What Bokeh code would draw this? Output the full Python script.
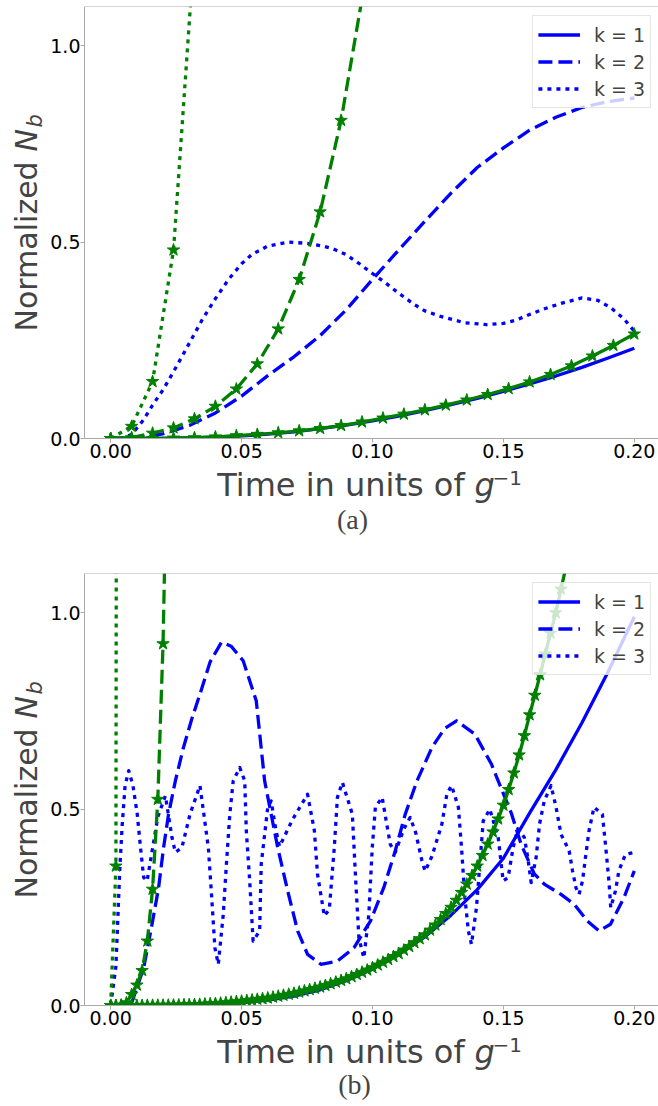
import math
from bokeh.plotting import figure
from bokeh.layouts import column, row
from bokeh.models import Label, Legend, LegendItem, FixedTicker, Range1d, Span
from bokeh.embed import file_html
from bokeh.resources import INLINE

# ---------------- axes / labels ----------------
X_TICKS = [0.0, 0.05, 0.10, 0.15, 0.20]
X_TICK_LABELS = ["0.00", "0.05", "0.10", "0.15", "0.20"]
Y_TICKS = [0.0, 0.5, 1.0]
Y_TICK_LABELS = ["0.0", "0.5", "1.0"]
X_LIMITS = (-0.01, 0.21)
Y_LIMITS = (0.0, 1.1)
LEGEND_LABELS = ["k = 1", "k = 2", "k = 3"]
PANEL_CAPTIONS = ["(a)", "(b)"]

BLUE = "#0000ff"
GREEN = "#008000"

# ---------------- panel (a) ----------------
a_t_star = [0.000, 0.008, 0.016, 0.024, 0.032, 0.040, 0.048, 0.056, 0.064, 0.072,
            0.080, 0.088, 0.096, 0.104, 0.112, 0.120, 0.128, 0.136, 0.144, 0.152,
            0.160, 0.168, 0.176, 0.184, 0.192, 0.200]
a_green_k1 = [0.0, 0.0, 0.0003, 0.001, 0.002, 0.004, 0.007, 0.0105, 0.0145, 0.0195,
              0.0255, 0.033, 0.042, 0.052, 0.062, 0.073, 0.085, 0.098, 0.112, 0.127,
              0.144, 0.163, 0.185, 0.21, 0.237, 0.266]
a_t_k2_star = [0.000, 0.008, 0.016, 0.024, 0.032, 0.040, 0.048, 0.056, 0.064, 0.072,
               0.080, 0.088, 0.096, 0.104]
a_green_k2 = [0.0, 0.002, 0.0135, 0.027, 0.05, 0.082, 0.126, 0.19, 0.279, 0.405,
              0.577, 0.81, 1.12, 1.5]
a_t_k3_star = [0.000, 0.008, 0.016, 0.024, 0.032]
a_green_k3 = [0.0, 0.031, 0.145, 0.48, 1.25]

a_t_blue = [0.00, 0.01, 0.02, 0.03, 0.04, 0.05, 0.06, 0.07, 0.08, 0.09, 0.10,
            0.11, 0.12, 0.13, 0.14, 0.15, 0.16, 0.17, 0.18, 0.19, 0.20]
a_blue_k1 = [0.0, 0.0001, 0.0005, 0.0015, 0.0035, 0.0065, 0.011, 0.017, 0.025, 0.034,
             0.045, 0.057, 0.071, 0.086, 0.102, 0.12, 0.139, 0.159, 0.181, 0.205, 0.23]
a_blue_k2 = [0.0, 0.002, 0.012, 0.033, 0.065, 0.108, 0.16, 0.208, 0.262, 0.328, 0.405,
             0.48, 0.553, 0.625, 0.69, 0.74, 0.785, 0.818, 0.843, 0.858, 0.867]
a_t_blue_k3 = [0.0, 0.004, 0.008, 0.0126, 0.016, 0.02, 0.024, 0.028, 0.035, 0.04,
               0.045, 0.05, 0.054, 0.06, 0.068, 0.075, 0.081, 0.085, 0.09, 0.095,
               0.1, 0.105, 0.11, 0.116, 0.12, 0.126, 0.135, 0.1435, 0.15, 0.155,
               0.16, 0.166, 0.172, 0.18, 0.186, 0.191, 0.196, 0.2]
a_blue_k3 = [0.0, 0.0, 0.01, 0.048, 0.085, 0.124, 0.17, 0.218, 0.303, 0.356,
             0.405, 0.445, 0.469, 0.49, 0.5, 0.497, 0.49, 0.483, 0.468, 0.445,
             0.42, 0.396, 0.37, 0.341, 0.325, 0.311, 0.295, 0.29, 0.293, 0.302,
             0.316, 0.331, 0.344, 0.358, 0.352, 0.333, 0.305, 0.273]

# ---------------- panel (b) ----------------
b_t_star = [round(0.002 * i, 3) for i in range(88)]
b_green_k1 = [0.0, 0.0, 0.0, 0.0, 0.0001, 0.0001, 0.0002, 0.0003, 0.0004, 0.0005,
              0.0006, 0.0008, 0.0011, 0.0014, 0.0017, 0.002, 0.0025, 0.003, 0.0036, 0.0043,
              0.005, 0.006, 0.0072, 0.0085, 0.0097, 0.011, 0.0125, 0.014, 0.0157, 0.0173,
              0.019, 0.0213, 0.0236, 0.026, 0.0285, 0.031, 0.0341, 0.0372, 0.0404, 0.0437,
              0.047, 0.051, 0.0552, 0.0595, 0.0638, 0.068, 0.0734, 0.079, 0.0846, 0.0903,
              0.096, 0.103, 0.11, 0.117, 0.1245, 0.132, 0.141, 0.15, 0.16, 0.17,
              0.18, 0.192, 0.205, 0.219, 0.234, 0.25, 0.268, 0.288, 0.309, 0.331,
              0.355, 0.382, 0.411, 0.442, 0.475, 0.51, 0.55, 0.592, 0.638, 0.687,
              0.74, 0.79, 0.842, 0.895, 0.948, 1.0, 1.06, 1.12]
b_t_k2_star = [0.000, 0.002, 0.004, 0.006, 0.008, 0.010, 0.012, 0.014, 0.016, 0.018,
               0.020, 0.022]
b_green_k2 = [0.0, 0.0, 0.001, 0.007, 0.028, 0.052, 0.089, 0.164, 0.296, 0.525,
              0.921, 1.6]
b_t_k3_star = [0.000, 0.002, 0.004]
b_green_k3 = [0.0, 0.355, 12.0]

b_t_blue = [0.00, 0.01, 0.02, 0.03, 0.04, 0.05, 0.06, 0.07, 0.08, 0.09, 0.10,
            0.11, 0.12, 0.13, 0.14, 0.15, 0.16, 0.17, 0.18, 0.19, 0.20]
b_blue_k1 = [0.0, 0.0, 0.0003, 0.0012, 0.003, 0.007, 0.014, 0.024, 0.04, 0.063, 0.093,
             0.13, 0.175, 0.23, 0.295, 0.375, 0.49, 0.6, 0.72, 0.85, 0.99]
b_t_blue_k2 = [0.0, 0.005, 0.0082, 0.0126, 0.0158, 0.0183, 0.0202, 0.0221, 0.0247, 0.0278,
               0.031, 0.0341, 0.038, 0.0423, 0.046, 0.0506, 0.0556, 0.0588, 0.0613, 0.0638,
               0.0676, 0.0714, 0.0752, 0.0803, 0.0866, 0.0929, 0.0992, 0.1043, 0.1087, 0.1125,
               0.117, 0.1227, 0.1275, 0.1321, 0.1391, 0.1454, 0.148, 0.153, 0.1568, 0.1618,
               0.1656, 0.172, 0.177, 0.1821, 0.1865, 0.1909, 0.196, 0.2]
b_blue_k2 = [0.0, 0.0, 0.01, 0.096, 0.207, 0.3, 0.402, 0.487, 0.572, 0.657,
             0.73, 0.793, 0.875, 0.925, 0.915, 0.878, 0.776, 0.572, 0.487, 0.402,
             0.292, 0.19, 0.13, 0.105, 0.113, 0.147, 0.215, 0.3, 0.394, 0.487,
             0.572, 0.657, 0.705, 0.725, 0.691, 0.615, 0.572, 0.49, 0.41, 0.335,
             0.309, 0.283, 0.258, 0.215, 0.19, 0.207, 0.274, 0.343]
b_t_blue_k3 = [0.0, 0.002, 0.0035, 0.0044, 0.0055, 0.0069, 0.0085, 0.0101, 0.0114, 0.0126,
               0.0139, 0.0155, 0.018, 0.0209, 0.0234, 0.0247, 0.0272, 0.0303, 0.0341, 0.0373,
               0.0386, 0.0398, 0.0411, 0.043, 0.0442, 0.0455, 0.0468, 0.0493, 0.0512, 0.0518,
               0.0531, 0.0544, 0.0569, 0.0575, 0.06, 0.0613, 0.063, 0.0645, 0.0695, 0.0752,
               0.0778, 0.079, 0.0816, 0.0835, 0.0854, 0.0866, 0.0885, 0.0923, 0.0936, 0.0948,
               0.0967, 0.0986, 0.0999, 0.1011, 0.1037, 0.105, 0.1068, 0.1087, 0.112, 0.1144,
               0.1165, 0.1189, 0.1201, 0.1227, 0.1265, 0.1284, 0.1302, 0.1328, 0.134, 0.1353,
               0.1366, 0.1378, 0.1397, 0.141, 0.1423, 0.1448, 0.148, 0.1499, 0.1518, 0.1537,
               0.1555, 0.158, 0.1593, 0.1606, 0.1625, 0.1638, 0.1656, 0.1682, 0.1701, 0.172,
               0.1751, 0.1764, 0.1777, 0.1789, 0.1802, 0.1815, 0.1827, 0.1846, 0.1878, 0.1891,
               0.1903, 0.191, 0.1928, 0.1941, 0.1966, 0.2]
b_blue_k3 = [0.0, 0.1, 0.35, 0.46, 0.56, 0.598, 0.56, 0.49, 0.402, 0.326,
             0.317, 0.38, 0.48, 0.534, 0.428, 0.39, 0.402, 0.487, 0.56, 0.402,
             0.274, 0.147, 0.105, 0.232, 0.36, 0.487, 0.572, 0.606, 0.572, 0.445,
             0.317, 0.164, 0.19, 0.36, 0.505, 0.521, 0.45, 0.405, 0.474, 0.538,
             0.445, 0.334, 0.228, 0.245, 0.402, 0.53, 0.568, 0.487, 0.317, 0.172,
             0.121, 0.232, 0.402, 0.505, 0.53, 0.479, 0.41, 0.39, 0.45, 0.479,
             0.44, 0.368, 0.342, 0.38, 0.462, 0.538, 0.56, 0.505, 0.402, 0.274,
             0.19, 0.156, 0.249, 0.36, 0.47, 0.5, 0.428, 0.317, 0.326, 0.402,
             0.45, 0.428, 0.377, 0.313, 0.377, 0.462, 0.521, 0.56, 0.505, 0.436,
             0.394, 0.343, 0.3, 0.283, 0.317, 0.385, 0.445, 0.505, 0.487, 0.402,
             0.317, 0.249, 0.292, 0.343, 0.385, 0.39]

DASH = "14 6"
DOT = "4 5"
LW = 3.3
FONT = "DejaVu Sans"

LEFT_W = 47          # width of the strip holding the y label
AXIS_LEFT = 34       # room left of each frame for tick labels
AXIS_BOTTOM = 27     # room under each frame for tick labels


def text_fig(w, h):
    f = figure(width=w, height=h, x_axis_type=None, y_axis_type=None,
               output_backend="svg", toolbar_location=None, min_border=0,
               background_fill_color="white", border_fill_color="white")
    f.outline_line_color = None
    return f


def main_panel(blue, green, top_border):
    p = figure(frame_width=576, frame_height=432,
               x_range=Range1d(*X_LIMITS), y_range=Range1d(*Y_LIMITS),
               output_backend="svg", toolbar_location=None,
               min_border_left=AXIS_LEFT, min_border_right=0, min_border_top=top_border,
               min_border_bottom=AXIS_BOTTOM, background_fill_color="white",
               border_fill_color="white")
    p.outline_line_color = None
    p.grid.visible = False

    for ax, ticks, labels in ((p.xaxis[0], X_TICKS, X_TICK_LABELS),
                              (p.yaxis[0], Y_TICKS, Y_TICK_LABELS)):
        ax.ticker = FixedTicker(ticks=ticks)
        ax.major_label_overrides = {t: l for t, l in zip(ticks, labels)}
        ax.minor_tick_line_color = None
        ax.major_tick_in = 0
        ax.major_tick_out = 4
        ax.major_tick_line_color = "#aaaaaa"
        ax.axis_line_color = "#aaaaaa"
        ax.major_label_text_font = FONT
        ax.major_label_text_font_size = "19px"
        ax.major_label_text_color = "black"
    p.xaxis.major_label_standoff = 1
    p.yaxis.major_label_standoff = 0
    p.add_layout(Span(location=Y_LIMITS[1], dimension="width",
                      line_color="#aaaaaa", line_width=1))

    renderers = []
    for (t, v), dash in zip(blue, ["solid", DASH, DOT]):
        r = p.line(t, v, line_color=BLUE, line_width=LW, line_dash=dash,
                   line_join="round")
        renderers.append(r)
    for (t, v), dash in zip(green, ["solid", DASH, DOT]):
        p.line(t, v, line_color=GREEN, line_width=LW, line_dash=dash,
               line_join="round")
        p.scatter(t, v, marker="star", size=13, fill_color=GREEN,
                  line_color=GREEN)

    legend = Legend(items=[LegendItem(label=lab, renderers=[r])
                           for lab, r in zip(LEGEND_LABELS, renderers)],
                    location="top_right", margin=9, padding=5, spacing=0,
                    glyph_width=42, glyph_height=27, label_height=27,
                    label_standoff=14, label_text_font=FONT,
                    label_text_font_size="19px", border_line_color="#cccccc",
                    background_fill_alpha=0.8)
    p.add_layout(legend)
    return p


def ylabel_strip(h):
    f = text_fig(LEFT_W, h)
    f.add_layout(Label(x=26, y=107, x_units="screen", y_units="screen",
                       text="Normalized ", text_font=FONT, angle=math.pi / 2,
                       text_font_size="30px", text_baseline="middle",
                       text_align="left"))
    f.add_layout(Label(x=26, y=287, x_units="screen", y_units="screen",
                       text="N", text_font=FONT, text_font_style="italic",
                       angle=math.pi / 2, text_font_size="30px",
                       text_baseline="middle", text_align="left"))
    f.add_layout(Label(x=34, y=311, x_units="screen", y_units="screen",
                       text="b", text_font=FONT, text_font_style="italic",
                       angle=math.pi / 2, text_font_size="21px",
                       text_baseline="middle", text_align="left"))
    return f


def xlabel_strip(h, mid_y, sup_y, caption, cap_x, cap_y):
    f = text_fig(658, h)
    f.add_layout(Label(x=216.7, y=mid_y, x_units="screen", y_units="screen",
                       text="Time in units of ", text_font=FONT,
                       text_font_size="32px", text_baseline="middle",
                       text_align="left"))
    f.add_layout(Label(x=474, y=mid_y, x_units="screen", y_units="screen",
                       text="g", text_font=FONT, text_font_style="italic",
                       text_font_size="32px", text_baseline="middle",
                       text_align="left"))
    f.add_layout(Label(x=492, y=sup_y, x_units="screen", y_units="screen",
                       text="\u22121", text_font=FONT,
                       text_font_size="20px", text_baseline="middle",
                       text_align="left"))
    f.add_layout(Label(x=cap_x, y=cap_y, x_units="screen", y_units="screen",
                       text=caption, text_font="Liberation Serif",
                       text_font_size="28px", text_baseline="middle",
                       text_align="center"))
    return f


ma = main_panel([(a_t_blue, a_blue_k1), (a_t_blue, a_blue_k2), (a_t_blue_k3, a_blue_k3)],
                [(a_t_star, a_green_k1), (a_t_k2_star, a_green_k2), (a_t_k3_star, a_green_k3)],
                6)
mb = main_panel([(b_t_blue, b_blue_k1), (b_t_blue_k2, b_blue_k2), (b_t_blue_k3, b_blue_k3)],
                [(b_t_star, b_green_k1), (b_t_k2_star, b_green_k2), (b_t_k3_star, b_green_k3)],
                0)

ha = 6 + 432 + AXIS_BOTTOM      # 465
hb = 0 + 432 + AXIS_BOTTOM      # 459

layout = column(
    row(ylabel_strip(ha), ma, spacing=0),
    xlabel_strip(108, 89, 96, PANEL_CAPTIONS[0], 352, 54),
    row(ylabel_strip(hb), mb, spacing=0),
    xlabel_strip(74, 55, 62, PANEL_CAPTIONS[1], 354, 22),
    spacing=0,
)
open("out.html", "w").write(file_html(layout, INLINE))
